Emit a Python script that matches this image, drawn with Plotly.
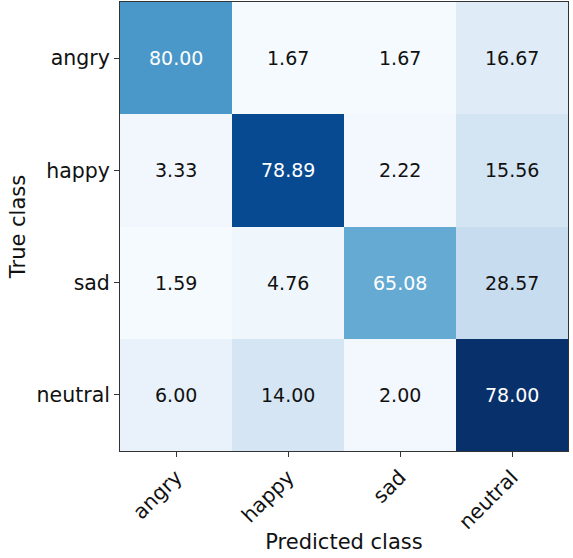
import plotly.graph_objects as go

classes = ["angry", "happy", "sad", "neutral"]
# percentages shown in the cells (rows = true class, cols = predicted class)
percent = [
    [80.00, 1.67, 1.67, 16.67],
    [3.33, 78.89, 2.22, 15.56],
    [1.59, 4.76, 65.08, 28.57],
    [6.00, 14.00, 2.00, 78.00],
]
# colour intensity of each cell (Blues scale, 0..1)
color_level = [
    [0.60, 0.01, 0.01, 0.12],
    [0.03, 0.90, 0.02, 0.18],
    [0.01, 0.04, 0.52, 0.24],
    [0.07, 0.17, 0.02, 1.00],
]

blues = [
    [0.0, "#f7fbff"], [0.125, "#deebf7"], [0.25, "#c6dbef"], [0.375, "#9ecae1"],
    [0.5, "#6baed6"], [0.625, "#4292c6"], [0.75, "#2171b5"], [0.875, "#08519c"],
    [1.0, "#08306b"],
]

fig = go.Figure(go.Heatmap(
    z=color_level, x=list(range(4)), y=list(range(4)),
    colorscale=blues, zmin=0, zmax=1, showscale=False, hoverinfo="skip",
))

annotations = []
for i, row in enumerate(percent):
    for j, v in enumerate(row):
        annotations.append(dict(
            x=j, y=i, text=f"{v:.2f}", showarrow=False, xref="x", yref="y",
            font=dict(family="DejaVu Sans", size=19,
                      color="white" if color_level[i][j] > 0.45 else "#111111"),
        ))

fig.update_layout(
    width=573, height=558,
    margin=dict(l=120, r=5, t=2, b=107),
    plot_bgcolor="white", paper_bgcolor="white",
    font=dict(family="DejaVu Sans", size=18, color="#111111"),
    annotations=annotations,
)
fig.update_xaxes(
    tickmode="array", tickvals=list(range(4)), ticktext=classes,
    tickangle=-45, ticks="outside", ticklen=5, tickcolor="#333",
    tickfont=dict(size=20.5),
    showline=True, linecolor="#333", linewidth=1, mirror=True,
    showgrid=False, zeroline=False, range=[-0.5, 3.5],
    title=dict(text="Predicted class", standoff=1, font=dict(size=21)),
)
fig.update_yaxes(
    tickmode="array", tickvals=list(range(4)), ticktext=classes,
    ticks="outside", ticklen=5, tickcolor="#333",
    tickfont=dict(size=20.5),
    showline=True, linecolor="#333", linewidth=1, mirror=True,
    showgrid=False, zeroline=False, range=[3.5, -0.5],
    title=dict(text="True class", standoff=5, font=dict(size=21)),
)

fig.write_html("out.html")
